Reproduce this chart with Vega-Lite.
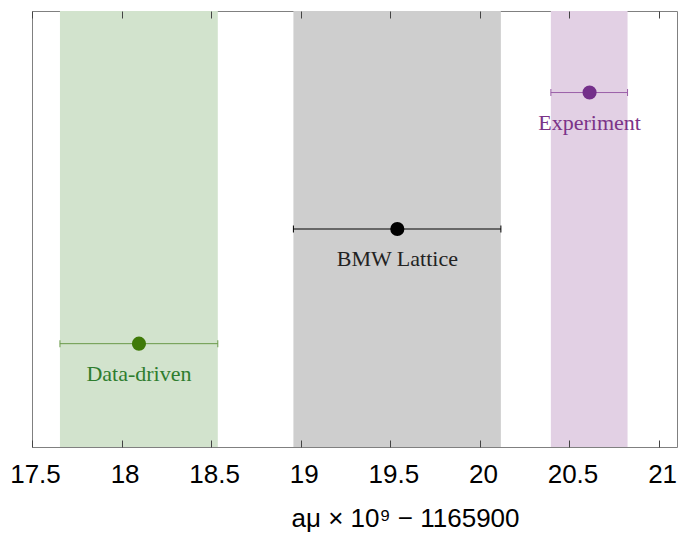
{
  "$schema": "https://vega.github.io/schema/vega-lite/v6.json",
  "autosize": "none",
  "width": 645,
  "height": 436,
  "padding": {"left": 32, "top": 11, "right": 1, "bottom": 87},
  "background": "white",
  "config": {
    "view": {"stroke": "#808080", "strokeWidth": 1},
    "font": "Liberation Sans"
  },
  "data": {
    "values": [
      {"name": "Data-driven", "val": 18.097, "lo": 17.656, "hi": 18.537, "ypos": 0.237},
      {"name": "BMW Lattice", "val": 19.539, "lo": 18.959, "hi": 20.117, "ypos": 0.5},
      {"name": "Experiment", "val": 20.612, "lo": 20.396, "hi": 20.824, "ypos": 0.813}
    ]
  },
  "layer": [
    {
      "mark": {"type": "rect"},
      "encoding": {
        "x": {
          "field": "lo", "type": "quantitative",
          "scale": {"domain": [17.5, 21.1], "nice": false, "zero": false},
          "axis": {
            "orient": "bottom",
            "zindex": 2,
            "offset": -7,
            "values": [17.5, 18, 18.5, 19, 19.5, 20, 20.5, 21],
            "format": "~g",
            "grid": false,
            "domain": false,
            "tickSize": 7,
            "tickColor": "#444444",
            "labelFont": "Liberation Sans",
            "labelFontSize": 26,
            "labelColor": "#000000",
            "labelPadding": 14,
            "labelOffset": 3,
            "labelFlush": false,
            "title": "aμ × 10⁹ − 1165900",
            "titleFont": "Liberation Sans",
            "titleFontSize": 26,
            "titleFontWeight": "normal",
            "titleColor": "#000000",
            "titleX": 373,
            "titleY": 86,
            "titleAlign": "center",
            "titleBaseline": "alphabetic"
          }
        },
        "x2": {"field": "hi"},
        "color": {
          "field": "name", "type": "nominal", "legend": null,
          "scale": {"domain": ["Data-driven", "BMW Lattice", "Experiment"], "range": ["#d2e3cd", "#cecece", "#e2d0e4"]}
        }
      }
    },
    {
      "mark": {"type": "errorbar", "ticks": {"size": 7, "opacity": 1}, "rule": {"opacity": 1}, "thickness": 1},
      "encoding": {
        "x": {"field": "lo", "type": "quantitative", "axis": null},
        "x2": {"field": "hi"},
        "y": {"field": "ypos", "type": "quantitative", "scale": {"domain": [0, 1], "nice": false}, "axis": null},
        "color": {
          "field": "name", "type": "nominal", "legend": null,
          "scale": {"domain": ["Data-driven", "BMW Lattice", "Experiment"], "range": ["#6a9a4a", "#000000", "#9b5fa8"]}
        }
      }
    },
    {
      "mark": {"type": "point", "filled": true, "opacity": 1, "size": 200},
      "encoding": {
        "x": {
          "field": "val", "type": "quantitative",
          "axis": {
            "orient": "top",
            "zindex": 2,
            "offset": -7,
            "values": [17.5, 18, 18.5, 19, 19.5, 20, 20.5, 21],
            "grid": false,
            "labels": false,
            "title": null,
            "domain": false,
            "tickSize": 7,
            "tickColor": "#444444"
          }
        },
        "y": {"field": "ypos", "type": "quantitative", "axis": null},
        "color": {
          "field": "name", "type": "nominal", "legend": null,
          "scale": {"domain": ["Data-driven", "BMW Lattice", "Experiment"], "range": ["#3f7a08", "#000000", "#74308a"]}
        }
      }
    },
    {
      "mark": {"type": "text", "dy": 30, "font": "Liberation Serif", "fontSize": 22, "baseline": "middle", "align": "center"},
      "encoding": {
        "x": {"field": "val", "type": "quantitative", "axis": null},
        "y": {"field": "ypos", "type": "quantitative", "axis": null},
        "text": {"field": "name"},
        "color": {
          "field": "name", "type": "nominal", "legend": null,
          "scale": {"domain": ["Data-driven", "BMW Lattice", "Experiment"], "range": ["#2e7d2e", "#222222", "#7b3388"]}
        }
      }
    }
  ],
  "resolve": {"scale": {"color": "independent"}}
}
